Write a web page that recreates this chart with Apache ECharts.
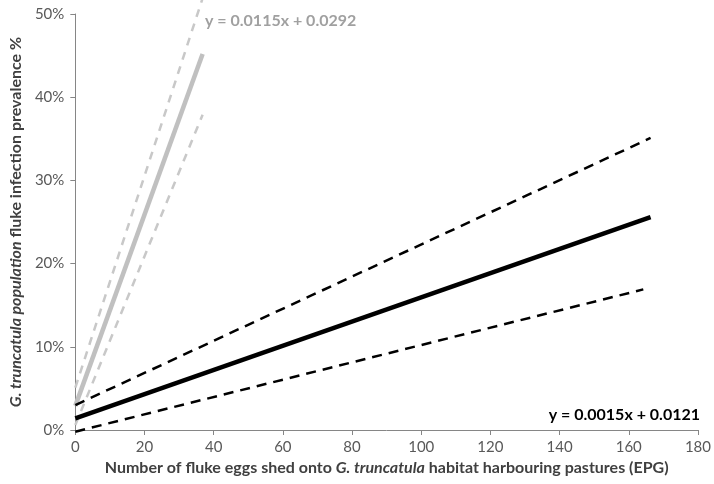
<!DOCTYPE html>
<html>
<head>
<meta charset="utf-8">
<script src="https://cdn.jsdelivr.net/npm/echarts@6/dist/echarts.min.js"></script>
<style>
  html, body { margin: 0; padding: 0; background: #fff; }
  #chart { width: 714px; height: 484px; }
</style>
</head>
<body>
<div id="chart"></div>
<script>
// end points of the fitted lines, [EPG, prevalence %]
var blackFit   = [[0, 1.4], [166.3, 25.6]];
var blackUpper = [[0, 3.0], [166.3, 35.1]];
var blackLower = [[0, -0.2], [164.2, 16.9]];
var greyFit    = [[0, 2.9], [36.8, 45.2]];
var greyUpper  = [[0, 5.1], [36.8, 51.9]];
var greyLower  = [[0, 0.6], [36.8, 37.9]];

var xTicks = [0, 180, 20];   // min, max, step
var yTicks = [0, 50, 10];

var greyEq = 'y = 0.0115x + 0.0292';
var blackEq = 'y = 0.0015x + 0.0121';

var FONT = 'Lato';

function line(data, color, width, dash) {
    return {
        type: 'line',
        data: data,
        symbol: 'none',
        clip: false,
        silent: true,
        lineStyle: { color: color, width: width, type: dash ? dash : 'solid', cap: 'butt' },
        z: color == '#000' ? 3 : 2
    };
}

var titleRich = {
    b: { fontWeight: 'bold', fontSize: 16, color: '#404040', fontFamily: FONT },
    i: { fontWeight: 'bold', fontStyle: 'italic', fontSize: 16, color: '#404040', fontFamily: FONT }
};

var chart = echarts.init(document.getElementById('chart'));

chart.setOption({
    animation: false,
    backgroundColor: '#fff',
    grid: { left: 63.5, right: 12, top: 14, bottom: 54, containLabel: false },
    xAxis: {
        type: 'value',
        min: xTicks[0], max: xTicks[1], interval: xTicks[2],
        splitLine: { show: false },
        axisLine: { lineStyle: { color: '#868686', width: 1 } },
        axisTick: { show: true, length: 5, lineStyle: { color: '#868686' } },
        axisLabel: { color: '#595959', fontSize: 15, fontFamily: FONT, margin: 10 },
        name: '{b|Number of fluke eggs shed onto }{i|G. truncatula}{b| habitat harbouring pastures (EPG)}',
        nameLocation: 'middle',
        nameGap: 29,
        nameTextStyle: { rich: titleRich }
    },
    yAxis: {
        type: 'value',
        min: yTicks[0], max: yTicks[1], interval: yTicks[2],
        splitLine: { show: false },
        axisLine: { show: true, lineStyle: { color: '#868686', width: 1 } },
        axisTick: { show: true, length: 5, lineStyle: { color: '#868686' } },
        axisLabel: { color: '#595959', fontSize: 15, fontFamily: FONT, margin: 11, formatter: '{value}%' },
        name: '{i|G. truncatula population}{b| fluke infection prevalence %}',
        nameLocation: 'middle',
        nameRotate: 90,
        nameGap: 42,
        nameTextStyle: { rich: titleRich }
    },
    series: [
        line(greyUpper, '#c8c8c8', 2.5, [8, 7]),
        line(greyLower, '#c8c8c8', 2.5, [8, 7]),
        line(greyFit, '#c0c0c0', 4.5),
        line(blackUpper, '#000', 2.5, [10, 7]),
        line(blackLower, '#000', 2.5, [10, 7]),
        line(blackFit, '#000', 4.5)
    ],
    graphic: [
        {
            type: 'text', left: 205, top: 13,
            style: { text: greyEq, fill: '#a0a0a0', font: 'bold 16px ' + FONT }
        },
        {
            type: 'text', right: 14, top: 407,
            style: { text: blackEq, fill: '#000', font: 'bold 16px ' + FONT }
        }
    ]
});
</script>
</body>
</html>
